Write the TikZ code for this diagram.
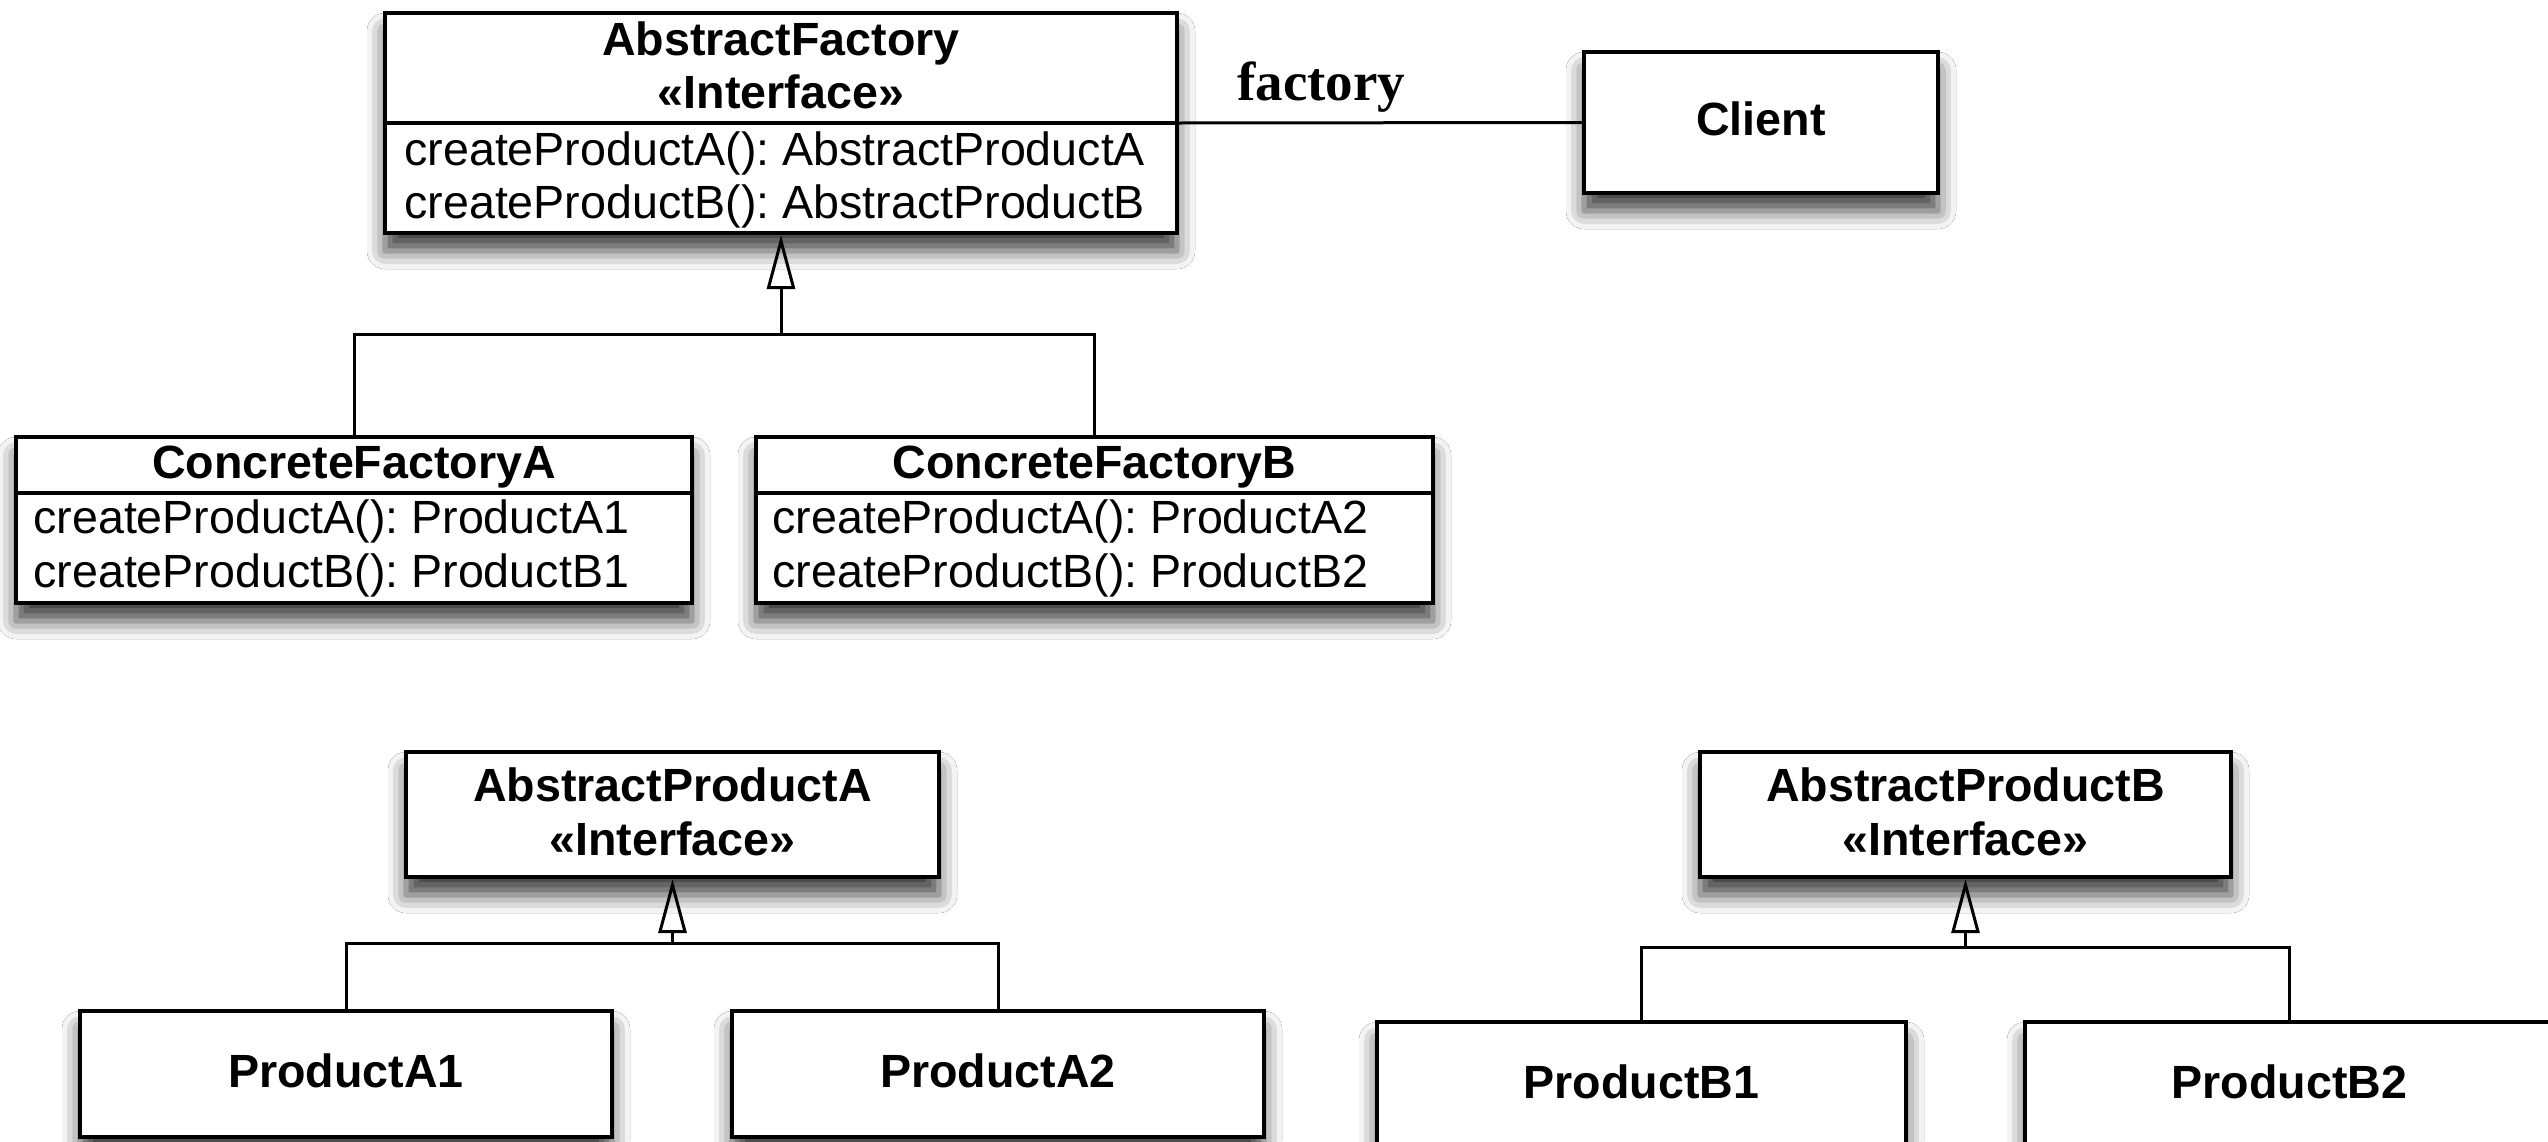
\documentclass[tikz,border=0pt]{standalone}
\usepackage{fontspec}
\setmainfont{Liberation Sans}
\newfontfamily\labelfont{Liberation Serif}
\usetikzlibrary{arrows.meta,shadows.blur}
\frenchspacing
\begin{document}
\begin{tikzpicture}[x=0.5pt,y=-0.5pt,
  box/.style={draw=black,line width=2pt,fill=white,rectangle,inner sep=0,
    blur shadow={shadow xshift=0pt,shadow yshift=-9pt,shadow blur radius=9pt,shadow opacity=75}},
  txt/.style={inner sep=0,font=\fontsize{23.3}{27}\selectfont},
  ttl/.style={inner sep=0,anchor=base,font=\fontsize{23.3}{27}\selectfont\bfseries},
  mth/.style={txt,anchor=base west},
  conn/.style={line width=1.5pt},
  divl/.style={line width=2pt},
  inh/.style={conn,-{Triangle[open,length=27pt,width=14pt,line width=1.5pt]}}
]
\useasboundingbox (0,0) rectangle (2548,1141);
\clip (0,0) rectangle (2548,1141);
\fill[white] (0,0) rectangle (2548,1141);

% boxes
\node[box,minimum width=396pt,minimum height=110pt] (af) at (781,123) {};
\node[box,minimum width=177pt,minimum height=70.5pt] (client) at (1761,122.5) {};
\node[box,minimum width=338pt,minimum height=83pt] (cfa) at (354,520) {};
\node[box,minimum width=338.5pt,minimum height=83pt] (cfb) at (1094.5,520) {};
\node[box,minimum width=266.5pt,minimum height=62.5pt] (apa) at (672.5,814.5) {};
\node[box,minimum width=265.5pt,minimum height=62.5pt] (apb) at (1965.5,814.5) {};
\node[box,minimum width=266pt,minimum height=63pt] (pa1) at (346,1074) {};
\node[box,minimum width=266pt,minimum height=63pt] (pa2) at (998,1074) {};
\node[box,minimum width=264.5pt,minimum height=63pt] (pb1) at (1641.5,1085) {};
\node[box,minimum width=264.5pt,minimum height=63pt] (pb2) at (2289.5,1085) {};

% dividers
\coordinate (cfdiv) at (0,493);
\draw[divl] (af.west) -- (af.east);
\draw[divl] (cfa.west |- cfdiv) -- (cfa.east |- cfdiv);
\draw[divl] (cfb.west |- cfdiv) -- (cfb.east |- cfdiv);

% texts
\node[ttl] (aft) at (781,55) {AbstractFactory};
\node[ttl] (afi) at (781,108) {«Interface»};
\node[mth] (afm1) at (404,165) {createProductA(): AbstractProductA};
\node[mth] (afm2) at (404,218) {createProductB(): AbstractProductB};
\node[ttl] (clt) at (1761,135) {Client};
\node[inner sep=0,anchor=base west,font=\labelfont\bfseries\fontsize{27.5}{32}\selectfont] (flabel) at (1237,100) {factory};

\node[ttl] (cfat) at (354,478) {ConcreteFactoryA};
\node[mth] (cfam1) at (33,533) {createProductA(): ProductA1};
\node[mth] (cfam2) at (33,587) {createProductB(): ProductB1};
\node[ttl] (cfbt) at (1094.5,478) {ConcreteFactoryB};
\node[mth] (cfbm1) at (772,533) {createProductA(): ProductA2};
\node[mth] (cfbm2) at (772,587) {createProductB(): ProductB2};

\node[ttl] (apat) at (672.5,801) {AbstractProductA};
\node[ttl] (apai) at (672.5,855) {«Interface»};
\node[ttl] (apbt) at (1965.5,801) {AbstractProductB};
\node[ttl] (apbi) at (1965.5,855) {«Interface»};

\node[ttl] (pa1t) at (346,1087) {ProductA1};
\node[ttl] (pa2t) at (998,1087) {ProductA2};
\node[ttl] (pb1t) at (1641.5,1098) {ProductB1};
\node[ttl] (pb2t) at (2289.5,1098) {ProductB2};

% connectors
\draw[conn] (af.east) -- (client.west);

\coordinate (j1) at (781,334);
\draw[conn] (cfa.north) |- (j1) -| (cfb.north);
\draw[inh] (j1) -- (af.south);

\coordinate (j2) at (672.5,943);
\draw[conn] (pa1.north) |- (j2) -| (pa2.north);
\draw[inh] (j2) -- (apa.south);

\coordinate (j3) at (1965.5,947);
\draw[conn] (pb1.north) |- (j3) -| (pb2.north);
\draw[inh] (j3) -- (apb.south);
\end{tikzpicture}
\end{document}
